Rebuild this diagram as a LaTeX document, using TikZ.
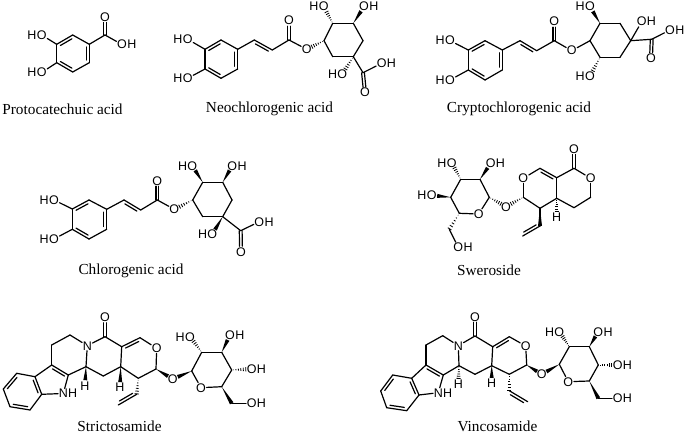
\documentclass[tikz,border=0pt]{standalone}
\usepackage{fontspec}
\setmainfont{Liberation Serif}
\newfontfamily\atomfont{Liberation Sans}
\usetikzlibrary{calc}
\tikzset{
  bond/.style={line width=1.2pt,line cap=round,line join=round},
  hash/.style={line width=.8pt},
  atom/.style={inner sep=.5pt,font=\atomfont\fontsize{12.5}{14}\selectfont},
  atomh/.style={inner sep=0pt,font=\atomfont\fontsize{12.5}{14}\selectfont},
  caption/.style={font=\fontsize{15.3}{17}\selectfont,inner sep=0pt}
}
\newcommand\pts[1]{\foreach \n/\x/\y in {#1}{\coordinate (\n) at (\x,\y);}}
\newcommand\bs[1]{\foreach \p/\q in {#1}{\draw[bond] (\p) -- (\q);}}
\newcommand\Oat[3]{\node[atom] (#1) at (#2,#3) {O};}
\newcommand\Nat[3]{\node[atom] (#1) at (#2,#3) {N};}
\newcommand\OH[3]{\node[atom] (#1) at (#2,#3) {O};\node[atomh,anchor=base west] (#1H) at ([xshift=-.5pt]#1.base east) {H};}
\newcommand\HO[3]{\node[atom] (#1) at (#2,#3) {O};\node[atomh,anchor=base east] (#1H) at ([xshift=.5pt]#1.base west) {H};}
\newcommand\NH[3]{\node[atom] (#1) at (#2,#3) {N};\node[atomh,anchor=base west] (#1H) at ([xshift=-.5pt]#1.base east) {H};}
\newcommand\Hat[3]{\node[atom] (#1) at (#2,#3) {H};}
% double bonds: inner line to the left / right of a->b
\newcommand\dbside[3]{\draw[bond] (#1) -- (#2);
  \draw[bond] ($(#1)!.14!(#2)!2.9pt!#3:(#2)$) -- ($(#2)!.14!(#1)!2.9pt!-#3:(#1)$);}
\newcommand\dbl[2]{\dbside{#1}{#2}{90}}
\newcommand\dbr[2]{\dbside{#1}{#2}{-90}}
% C=O
\newcommand\dbo[2]{\draw[bond,shorten >=5.5pt] ($(#1)!1.4pt!90:(#2)$) -- ($(#2)!1.4pt!-90:(#1)$);
  \draw[bond,shorten >=5.5pt] ($(#1)!1.4pt!-90:(#2)$) -- ($(#2)!1.4pt!90:(#1)$);}
% solid wedge, narrow at first point
\newcommand\wb[3][0pt]{\coordinate (wq) at ($(#3)!#1!(#2)$);
  \fill (#2) -- ($(wq)!2pt!90:(#2)$) -- ($(wq)!2pt!-90:(#2)$) -- cycle;}
% hashed wedge
\newcommand\hb[3][0pt]{\coordinate (wq) at ($(#3)!#1!(#2)$);
  \foreach \t in {.12,.29,.46,.63,.80,.97}{\pgfmathsetlengthmacro\dd{2.2*\t}
    \draw[hash] ($(#2)!\t!(wq)!\dd!90:(#2)$) -- ($(#2)!\t!(wq)!\dd!-90:(#2)$);}}
\begin{document}
\begin{tikzpicture}[x=1pt,y=-1pt]
\path[fill=white,use as bounding box] (0,0) rectangle (685,435);

% ---------- Protocatechuic acid
\pts{a1/56.7/44.3,a2/72.7/35,a3/89.3/44.3,a4/89.3/62.7,a5/72.7/72,a6/56.7/62.7,a7/105/35}
\HO{aO1}{41.7}{35}\HO{aO2}{41.7}{72.5}\OH{aO3}{122}{44.5}\Oat{aO4}{105}{17}
\dbr{a1}{a2}\dbr{a3}{a4}\dbr{a5}{a6}
\bs{a2/a3,a4/a5,a6/a1,a1/aO1,a6/aO2,a3/a7,a7/aO3}
\dbo{a7}{aO4}
\node[caption] (capa) at (62.5,109) {Protocatechuic acid};

% ---------- Neochlorogenic acid
\pts{b1/205/49.3,b2/221/40,b3/237.7/49.3,b4/237.7/69,b5/221/78.3,b6/205/69,
b7/254.3/40,b8/272.3/50,b9/289/40,
r1/324/40.7,r2/332.7/23.3,r3/353.3/23.3,r4/363/40.7,r5/353.3/56.7,r6/332.7/56.7,b10/363/72.7}
\HO{bO1}{187.7}{39.3}\HO{bO2}{187.7}{78.3}\Oat{bO3}{289}{20.7}\Oat{bO4}{306.7}{49.3}
\HO{bO5}{323.7}{6.7}\OH{bO6}{364}{6.7}\HO{bO7}{342.3}{74}\OH{bO8}{381.7}{63.3}\Oat{bO9}{365}{92.7}
\dbr{b1}{b2}\dbr{b3}{b4}\dbr{b5}{b6}\dbr{b7}{b8}
\bs{b2/b3,b4/b5,b6/b1,b1/bO1,b6/bO2,b3/b7,b8/b9,b9/bO4,r2/r3,r3/r4,r4/r5,r5/r6,r6/r1,r1/r2,r5/b10,b10/bO8}
\dbo{b9}{bO3}\dbo{b10}{bO9}
\hb[5.5pt]{r1}{bO4}\hb[5.5pt]{r2}{bO5}\wb[5.5pt]{r3}{bO6}\hb[5.5pt]{r5}{bO7}
\node[caption] (capb) at (269.5,109) {Neochlorogenic acid};

% ---------- Cryptochlorogenic acid
\pts{c1/468.3/50,c2/485/40.7,c3/502.3/50,c4/502.3/70,c5/485/80,c6/468.3/70,
c7/520/40.7,c8/536.7/50.7,c9/554.3/40.7,
s1/590/40.7,s2/600/23.3,s3/620/23.3,s4/630.7/40.7,s5/620/57.3,s6/600/57.3,c10/651.7/39.3}
\HO{cO1}{450}{40.7}\HO{cO2}{450}{80}\Oat{cO3}{554.3}{21.7}\Oat{cO4}{571.7}{50.7}
\HO{cO5}{590}{6.7}\OH{cO6}{641.7}{21.7}\HO{cO7}{590}{76}\OH{cO8}{670}{30}\Oat{cO9}{651}{58.3}
\dbr{c1}{c2}\dbr{c3}{c4}\dbr{c5}{c6}\dbr{c7}{c8}
\bs{c2/c3,c4/c5,c6/c1,c1/cO1,c6/cO2,c3/c7,c8/c9,c9/cO4,cO4/s1,s1/s2,s2/s3,s3/s4,s4/s5,s5/s6,s6/s1,s4/cO6,s4/c10,c10/cO8}
\dbo{c9}{cO3}\dbo{c10}{cO9}
\wb[5.5pt]{s2}{cO5}\hb[5.5pt]{s6}{cO7}
\node[caption] (capc) at (519,109) {Cryptochlorogenic acid};

% ---------- Chlorogenic acid
\pts{d1/72.3/209,d2/89/200,d3/106.7/209.3,d4/106.7/229.3,d5/89/239,d6/72.3/229.3,
d7/124/200,d8/140.7/210,d9/157.3/200,
t1/192.7/200,t2/202.7/182.3,t3/222.7/182.3,t4/232/200,t5/222.7/216.7,t6/202.7/216.7,d10/240.7/230.7}
\HO{dO1}{54}{200}\HO{dO2}{54}{239}\Oat{dO3}{157.3}{180.7}\Oat{dO4}{174.3}{209.3}
\HO{dO5}{192.3}{165.7}\OH{dO6}{232.3}{165.7}\HO{dO7}{212.3}{234.3}\OH{dO8}{259.3}{221.7}\Oat{dO9}{241}{251.7}
\dbr{d1}{d2}\dbr{d3}{d4}\dbr{d5}{d6}\dbr{d7}{d8}
\bs{d2/d3,d4/d5,d6/d1,d1/dO1,d6/dO2,d3/d7,d8/d9,d9/dO4,t1/t2,t2/t3,t3/t4,t4/t5,t5/t6,t6/t1,t5/d10,d10/dO8}
\dbo{d9}{dO3}\dbo{d10}{dO9}
\hb[5.5pt]{t1}{dO4}\wb[5.5pt]{t2}{dO5}\wb[5.5pt]{t3}{dO6}\wb[5.5pt]{t5}{dO7}
\node[caption] (capd) at (131,270.5) {Chlorogenic acid};

% ---------- Sweroside
\pts{e1/540/168.3,e2/556.7/177.7,e3/556.7/198.3,e4/540/208.3,e5/523.3/197.3,
e6/574/168.3,e7/590.7/197.3,e8/574/207.7,e9/540/226,e10/522.7/236,
u1/489.3/197.3,u2/480/179.3,u3/460.7/179.3,u4/450.7/197.3,u5/459.3/213.3,u6/449.3/229.3}
\Oat{eO1}{523.3}{178.3}\Oat{eO2}{574}{149}\Oat{eO3}{590.7}{178.3}\Oat{eO4}{506}{206.7}\Oat{eO5}{478.7}{214}
\OH{eO6}{490.7}{163.3}\HO{eO7}{451.7}{162.7}\HO{eO8}{431.7}{195.3}\OH{eO9}{458.3}{247.3}
\Hat{eH}{556.7}{217.3}
\dbr{e1}{e2}\dbr{e9}{e10}
\bs{eO1/e1,e2/e3,e3/e4,e4/e5,e5/eO1,e2/e6,e6/eO3,eO3/e7,e7/e8,e8/e3,e4/e9,u1/u2,u2/u3,u3/u4,u4/u5,u5/eO5,eO5/u1,u6/eO9}
\dbo{e6}{eO2}
\hb[5.5pt]{e3}{eH}\wb{e4}{e9}\hb[5.5pt]{e5}{eO4}\hb[5.5pt]{u1}{eO4}
\wb[5.5pt]{u2}{eO6}\hb[5.5pt]{u3}{eO7}\wb[5.5pt]{u4}{eO8}\hb{u5}{u6}
\node[caption] (cape) at (489,270.5) {Sweroside};

% ---------- Strictosamide
\pts{f1/3.3/389,f2/16.7/373.3,f3/35/376.7,f4/41.7/394.3,f5/30/410,f6/10/406.7,
f7/51.7/365,f8/68.3/375,f9/51.7/345,f10/70/335,f11/86/366.7,f12/105/336.7,f13/121.7/346.7,
f14/120.7/366.7,f15/103.3/376,f16/140/337.7,f17/156/369,f18/138.3/378.3,f19/136.7/394.3,f20/118.3/405,
v1/191.7/371,v2/201.7/352.3,v3/221.7/352.3,v4/231.7/370,v5/221.7/386.7,v6/231.7/403.3}
\NH{fN1}{63.3}{393.5}\Nat{fN}{87.3}{345.7}\Oat{fO1}{105}{317.3}\Oat{fO2}{156.7}{348.3}\Oat{fO3}{172.7}{379}\Oat{fO4}{201}{387.7}
\HO{fO5}{190}{336.7}\OH{fO6}{230}{335}\OH{fO7}{251.7}{369}\OH{fO8}{251.7}{403.3}
\Hat{fH1}{85}{385.7}\Hat{fH2}{120}{387.7}
\dbr{f1}{f2}\dbr{f3}{f4}\dbr{f5}{f6}\dbr{f7}{f8}\dbr{f13}{f16}\dbr{f19}{f20}
\bs{f2/f3,f4/f5,f6/f1,f3/f7,f8/fN1,f4/fN1,f7/f9,f9/f10,f10/fN,fN/f11,f11/f8,fN/f12,f12/f13,f13/f14,f14/f15,f15/f11,f16/fO2,fO2/f17,f17/f18,f18/f14,
v1/v2,v2/v3,v3/v4,v4/v5,v5/fO4,fO4/v1,v6/fO8}
\dbo{f12}{fO1}
\wb[5.5pt]{f11}{fH1}\wb[5.5pt]{f14}{fH2}\hb{f18}{f19}\wb[5.5pt]{f17}{fO3}\wb[5.5pt]{v1}{fO3}
\hb[5.5pt]{v2}{fO5}\wb[5.5pt]{v3}{fO6}\hb[5.5pt]{v4}{fO7}\wb{v5}{v6}
\node[caption] (capf) at (119.5,426.5) {Strictosamide};

% ---------- Vincosamide
\pts{g1/380.7/391,g2/392.7/375,g3/411.7/378.3,g4/419/395,g5/406.7/410.7,g6/386.7/407.7,
g7/426/365,g8/443.3/375,g9/426/345,g10/442.7/335.7,g11/459/365.7,g12/475/336,g13/492.7/346.7,
g14/491.7/365.7,g15/475/374.3,g16/509.3/336.7,g17/526.7/365,g18/509.3/374.3,g19/509.3/390.7,g20/527.7/401.7,
w1/559.3/364.3,w2/569.3/346.7,w3/589.3/346.7,w4/598.3/365,w5/589.3/381,w6/598.3/398.3}
\NH{gN1}{438.3}{392.7}\Nat{gN}{458.3}{345.7}
\Oat{gO1}{475}{316.7}\Oat{gO2}{525.7}{346}\Oat{gO3}{541.7}{374.3}\Oat{gO4}{568.3}{381.7}
\HO{gO5}{559.3}{331.7}\OH{gO6}{598.3}{331.7}\OH{gO7}{617.7}{365}\OH{gO8}{617.7}{398.3}
\Hat{gH1}{458.3}{384.3}\Hat{gH2}{491.7}{383.3}
\dbr{g1}{g2}\dbr{g3}{g4}\dbr{g5}{g6}\dbr{g7}{g8}\dbr{g13}{g16}\dbr{g19}{g20}
\bs{g2/g3,g4/g5,g6/g1,g3/g7,g8/gN1,g4/gN1,g7/g9,g9/g10,g10/gN,gN/g11,g11/g8,gN/g12,g12/g13,g13/g14,g14/g15,g15/g11,g16/gO2,gO2/g17,g17/g18,g18/g14,
w1/w2,w2/w3,w3/w4,w4/w5,w5/gO4,gO4/w1,w6/gO8}
\dbo{g12}{gO1}
\hb[5.5pt]{g11}{gH1}\wb[5.5pt]{g14}{gH2}\hb{g18}{g19}\wb[5.5pt]{g17}{gO3}\wb[5.5pt]{w1}{gO3}
\hb[5.5pt]{w2}{gO5}\wb[5.5pt]{w3}{gO6}\hb[5.5pt]{w4}{gO7}\wb{w5}{w6}
\node[caption] (capg) at (497.5,426.5) {Vincosamide};
\end{tikzpicture}
\end{document}
